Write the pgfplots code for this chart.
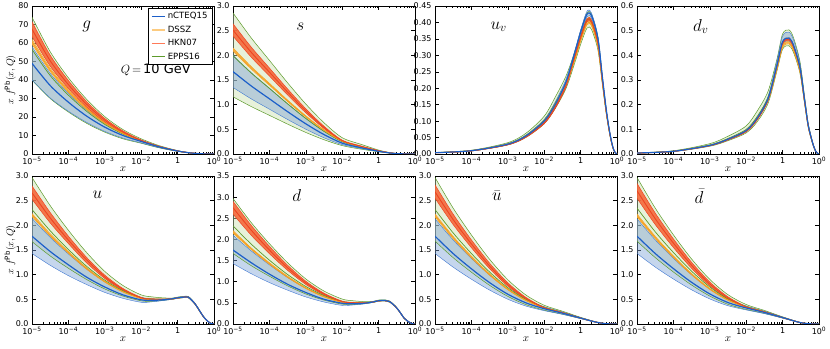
\documentclass[border=0pt]{standalone}
\usepackage{fontspec}
\setmainfont{DejaVu Sans}
\usepackage{pgfplots}
\pgfplotsset{compat=1.18}
\usepgfplotslibrary{fillbetween}
\usepackage{pgfplotstable}

\definecolor{ncol}{HTML}{1C5FC9}
\definecolor{nfillc}{HTML}{7FA3D6}
\definecolor{ecol}{HTML}{5D9B2B}
\definecolor{efillc}{HTML}{C9DFAE}
\definecolor{hcol}{HTML}{EE4422}
\definecolor{hfillc}{HTML}{F46A3C}
\definecolor{hleg}{HTML}{FF7A58}
\definecolor{dcol}{HTML}{F5A020}
\definecolor{dfillc}{HTML}{FCCB80}

% columns: nCTEQ15 (n), DSSZ (d), HKN07 (h), EPPS16 (e); c=central, l/u=band edges
\pgfplotstableread{
x nc nl nu dc dl du hc hl hu ec el eu
1e-5 49.0 40.0 58.0 60.7 59.5 62.0 67.5 63.5 71.5 56.5 40.0 74.0
3.16e-5 37.0 30.3 43.6 45.4 44.6 46.4 50.4 47.5 53.4 42.4 30.0 55.3
1e-4 28.0 23.1 32.8 34.0 33.3 34.7 37.5 35.4 39.7 31.8 22.7 41.2
3.16e-4 20.5 17.1 23.8 24.5 24.0 25.0 26.9 25.4 28.4 23.1 16.6 29.6
1e-3 14.5 12.2 16.6 16.8 16.5 17.1 18.3 17.3 19.2 16.0 11.8 20.2
3.16e-3 10.0 8.6 11.2 11.1 10.9 11.3 11.9 11.3 12.5 10.8 8.2 13.2
1e-2 6.8 6.0 7.4 7.0 6.9 7.1 7.3 7.0 7.6 7.0 5.8 8.2
3.16e-2 3.8 3.4 4.1 3.9 3.85 3.95 4.0 3.9 4.15 3.9 3.3 4.5
0.1 1.6 1.45 1.75 1.6 1.58 1.62 1.65 1.6 1.7 1.6 1.4 1.85
0.2 0.7 0.62 0.78 0.7 0.69 0.71 0.72 0.7 0.74 0.7 0.6 0.8
0.3 0.35 0.3 0.4 0.35 0.34 0.36 0.36 0.35 0.37 0.35 0.3 0.4
0.45 0.12 0.1 0.14 0.12 0.12 0.12 0.12 0.12 0.13 0.12 0.1 0.14
0.6 0.04 0.03 0.05 0.04 0.04 0.04 0.04 0.04 0.04 0.04 0.03 0.05
0.8 0.01 0.01 0.01 0.01 0.01 0.01 0.01 0.01 0.01 0.01 0.01 0.01
1 0 0 0 0 0 0 0 0 0 0 0 0
}\tg

\pgfplotstableread{
x nc nl nu dc dl du hc hl hu ec el eu
1e-5 1.67 1.35 2.0 2.12 2.09 2.15 2.51 2.39 2.64 1.99 1.16 2.86
3.16e-5 1.38 1.118 1.65 1.748 1.723 1.773 2.062 1.964 2.168 1.642 0.962 2.354
1e-4 1.119 0.909 1.335 1.413 1.393 1.434 1.659 1.581 1.743 1.329 0.784 1.899
3.16e-4 0.858 0.700 1.02 1.078 1.062 1.094 1.256 1.197 1.318 1.016 0.606 1.443
1e-3 0.612 0.503 0.7225 0.762 0.75 0.774 0.875 0.835 0.917 0.72 0.437 1.013
3.16e-3 0.394 0.329 0.46 0.483 0.475 0.491 0.539 0.516 0.563 0.459 0.289 0.634
1e-2 0.22 0.19 0.25 0.26 0.255 0.265 0.27 0.26 0.28 0.25 0.17 0.33
3.16e-2 0.13 0.115 0.145 0.15 0.148 0.152 0.16 0.155 0.165 0.145 0.10 0.20
0.1 0.055 0.048 0.062 0.06 0.059 0.061 0.065 0.063 0.067 0.06 0.045 0.08
0.2 0.022 0.019 0.025 0.024 0.024 0.024 0.025 0.025 0.026 0.024 0.018 0.03
0.3 0.009 0.008 0.01 0.01 0.01 0.01 0.01 0.01 0.01 0.01 0.007 0.012
0.45 0.003 0.002 0.003 0.003 0.003 0.003 0.003 0.003 0.003 0.003 0.002 0.004
0.6 0.001 0.001 0.001 0.001 0.001 0.001 0.001 0.001 0.001 0.001 0.001 0.001
0.8 0 0 0 0 0 0 0 0 0 0 0 0
1 0 0 0 0 0 0 0 0 0 0 0 0
}\ts

\pgfplotstableread{
x nc nl nu dc dl du hc hl hu ec el eu
1e-5 .004 .0038 .0042 .004 .0039 .0041 .0038 .0037 .0039 .0041 .0037 .0046
1e-4 .010 .0095 .0105 .010 .0098 .0102 .0095 .0092 .0098 .0103 .0092 .0115
1e-3 .030 .0285 .0315 .030 .0294 .0306 .0285 .0276 .0294 .0309 .0276 .0345
3.16e-3 .055 .0523 .0578 .055 .0539 .0561 .0523 .0506 .0539 .0567 .0506 .0633
1e-2 .100 .095 .105 .100 .098 .102 .095 .092 .098 .103 .092 .115
2e-2 .150 .1425 .158 .150 .147 .153 .1425 .138 .147 .1545 .138 .1725
4e-2 .220 .212 .228 .213 .210 .216 .210 .205 .2145 .219 .200 .238
7e-2 .310 .304 .316 .290 .287 .293 .297 .293 .301 .298 .279 .313
0.1 .370 .363 .377 .346 .342 .350 .354 .350 .359 .355 .333 .374
0.15 .425 .417 .434 .397 .393 .402 .407 .402 .412 .408 .383 .429
0.2 .420 .412 .428 .393 .389 .397 .402 .397 .407 .403 .378 .424
0.3 .350 .343 .357 .327 .324 .331 .335 .331 .340 .336 .315 .354
0.4 .230 .225 .235 .215 .213 .217 .220 .218 .223 .221 .207 .232
0.5 .140 .137 .143 .131 .130 .132 .134 .132 .136 .134 .126 .141
0.6 .080 .078 .082 .075 .074 .076 .077 .076 .078 .077 .072 .081
0.7 .040 .039 .041 .037 .037 .038 .038 .038 .039 .038 .036 .040
0.8 .015 .015 .015 .014 .014 .014 .014 .014 .015 .014 .0135 .015
0.9 .004 .004 .004 .004 .004 .004 .004 .004 .004 .004 .0036 .004
1 0 0 0 0 0 0 0 0 0 0 0 0
}\tuv

\pgfplotstableread{
x nc nl nu dc dl du hc hl hu ec el eu
1e-5 .004 .0039 .0041 .004 .0039 .0041 .0039 .0038 .004 .0042 .0036 .0048
1e-4 .011 .0107 .0113 .011 .0108 .0112 .0107 .0105 .0109 .0116 .0099 .0132
1e-3 .035 .034 .036 .035 .0343 .0357 .034 .0333 .0347 .0368 .0315 .042
3.16e-3 .060 .058 .062 .060 .0588 .0612 .058 .057 .0594 .063 .054 .072
1e-2 .095 .092 .098 .095 .0931 .0969 .092 .090 .094 .0998 .0855 .114
2e-2 .145 .141 .149 .145 .142 .148 .141 .138 .1436 .152 .1305 .174
4e-2 .225 .219 .234 .2205 .217 .224 .2205 .217 .224 .231 .206 .255
7e-2 .360 .351 .378 .346 .342 .349 .356 .353 .360 .360 .337 .385
0.1 .455 .444 .478 .437 .432 .441 .450 .446 .455 .455 .425 .487
0.15 .470 .458 .494 .451 .4465 .456 .465 .461 .470 .470 .439 .503
0.2 .440 .429 .462 .422 .418 .427 .436 .431 .440 .440 .411 .471
0.3 .350 .341 .368 .336 .3325 .3395 .3465 .343 .350 .350 .327 .3745
0.4 .220 .215 .231 .211 .209 .213 .218 .216 .220 .220 .206 .235
0.5 .120 .117 .126 .115 .114 .116 .119 .118 .120 .120 .112 .128
0.6 .070 .068 .074 .067 .0665 .068 .069 .069 .070 .070 .065 .075
0.7 .035 .034 .037 .034 .033 .034 .035 .034 .035 .035 .033 .037
0.8 .013 .0127 .0137 .0125 .0124 .0126 .0129 .0127 .013 .013 .0122 .0139
0.9 .003 .0029 .0032 .0029 .0029 .0029 .003 .0029 .003 .003 .0028 .0032
1 0 0 0 0 0 0 0 0 0 0 0 0
}\tdv

\pgfplotstableread{
x nc nl nu dc dl du hc hl hu ec el eu
1e-5 1.78 1.43 2.14 2.21 2.18 2.24 2.66 2.53 2.80 2.32 1.67 2.97
3.16e-5 1.47 1.19 1.756 1.80 1.78 1.83 2.15 2.05 2.26 1.89 1.38 2.40
1e-4 1.20 0.98 1.42 1.45 1.43 1.47 1.70 1.63 1.78 1.51 1.13 1.90
3.16e-4 0.95 0.80 1.116 1.13 1.11 1.14 1.30 1.24 1.35 1.17 0.902 1.45
1e-3 0.75 0.64 0.86 0.86 0.848 0.868 0.956 0.922 0.99 0.888 0.71 1.066
3.16e-3 0.59 0.52 0.668 0.655 0.648 0.662 0.70 0.68 0.72 0.673 0.566 0.78
1e-2 0.49 0.44 0.54 0.52 0.515 0.525 0.53 0.52 0.54 0.53 0.47 0.59
2e-2 0.48 0.45 0.51 0.50 0.495 0.505 0.505 0.50 0.51 0.505 0.46 0.55
4e-2 0.49 0.475 0.505 0.50 0.497 0.503 0.50 0.497 0.503 0.50 0.48 0.53
0.07 0.51 0.50 0.52 0.505 0.502 0.508 0.51 0.506 0.514 0.51 0.50 0.525
0.1 0.53 0.52 0.54 0.525 0.522 0.528 0.53 0.526 0.534 0.53 0.52 0.546
0.15 0.545 0.534 0.556 0.54 0.537 0.543 0.545 0.541 0.549 0.545 0.534 0.561
0.2 0.54 0.529 0.551 0.535 0.532 0.538 0.54 0.536 0.544 0.54 0.529 0.556
0.3 0.41 0.402 0.418 0.406 0.403 0.409 0.41 0.406 0.414 0.41 0.402 0.422
0.4 0.27 0.265 0.275 0.267 0.265 0.269 0.27 0.267 0.273 0.27 0.265 0.278
0.5 0.16 0.157 0.163 0.158 0.157 0.159 0.16 0.158 0.162 0.16 0.157 0.165
0.6 0.09 0.088 0.092 0.089 0.088 0.09 0.09 0.089 0.091 0.09 0.088 0.093
0.7 0.045 0.044 0.046 0.045 0.044 0.045 0.045 0.045 0.045 0.045 0.044 0.046
0.8 0.016 0.016 0.016 0.016 0.016 0.016 0.016 0.016 0.016 0.016 0.016 0.016
0.9 0.004 0.004 0.004 0.004 0.004 0.004 0.004 0.004 0.004 0.004 0.004 0.004
1 0 0 0 0 0 0 0 0 0 0 0 0
}\tu

\pgfplotstableread{
x nc nl nu dc dl du hc hl hu ec el eu
1e-5 1.75 1.43 2.10 2.18 2.15 2.21 2.75 2.60 2.90 2.32 1.67 2.97
3.16e-5 1.45 1.19 1.73 1.78 1.76 1.80 2.22 2.10 2.334 1.89 1.38 2.40
1e-4 1.18 0.98 1.40 1.43 1.41 1.45 1.75 1.664 1.838 1.51 1.13 1.90
3.16e-4 0.94 0.80 1.10 1.11 1.10 1.13 1.33 1.27 1.39 1.17 0.902 1.45
1e-3 0.745 0.64 0.85 0.848 0.84 0.86 0.974 0.936 1.012 0.888 0.71 1.066
3.16e-3 0.585 0.52 0.66 0.648 0.64 0.655 0.708 0.686 0.729 0.673 0.566 0.78
1e-2 0.49 0.44 0.53 0.515 0.51 0.52 0.53 0.52 0.54 0.53 0.47 0.59
2e-2 0.48 0.45 0.51 0.50 0.495 0.505 0.505 0.50 0.51 0.505 0.46 0.55
4e-2 0.49 0.475 0.505 0.50 0.497 0.503 0.50 0.497 0.503 0.50 0.48 0.53
0.07 0.52 0.51 0.53 0.515 0.512 0.518 0.52 0.516 0.524 0.52 0.51 0.536
0.1 0.55 0.539 0.561 0.545 0.542 0.548 0.55 0.546 0.554 0.55 0.539 0.567
0.15 0.555 0.544 0.566 0.549 0.546 0.552 0.555 0.551 0.559 0.555 0.544 0.572
0.2 0.53 0.519 0.541 0.525 0.522 0.528 0.53 0.526 0.534 0.53 0.519 0.546
0.3 0.40 0.392 0.408 0.396 0.393 0.399 0.40 0.396 0.404 0.40 0.392 0.412
0.4 0.26 0.255 0.265 0.257 0.255 0.259 0.26 0.256 0.264 0.26 0.255 0.268
0.5 0.14 0.137 0.143 0.139 0.138 0.14 0.14 0.137 0.143 0.14 0.137 0.144
0.6 0.08 0.078 0.082 0.079 0.078 0.08 0.08 0.078 0.082 0.08 0.078 0.082
0.7 0.04 0.039 0.041 0.04 0.039 0.04 0.04 0.039 0.041 0.04 0.039 0.041
0.8 0.014 0.014 0.014 0.014 0.014 0.014 0.014 0.014 0.014 0.014 0.014 0.014
0.9 0.003 0.003 0.003 0.003 0.003 0.003 0.003 0.003 0.003 0.003 0.003 0.003
1 0 0 0 0 0 0 0 0 0 0 0 0
}\td

\pgfplotstableread{
x nc nl nu dc dl du hc hl hu ec el eu
1e-5 1.78 1.43 2.13 2.2 2.17 2.23 2.68 2.55 2.82 2.32 1.68 2.97
3.16e-5 1.427 1.152 1.703 1.751 1.727 1.775 2.116 2.015 2.225 1.845 1.344 2.348
1e-4 1.119 0.908 1.329 1.359 1.34 1.377 1.623 1.547 1.704 1.429 1.05 1.805
3.16e-4 0.839 0.688 0.991 1.003 0.989 1.017 1.176 1.123 1.233 1.053 0.784 1.312
1e-3 0.604 0.502 0.706 0.704 0.694 0.714 0.80 0.766 0.836 0.736 0.56 0.898
3.16e-3 0.428 0.363 0.492 0.48 0.473 0.487 0.518 0.498 0.538 0.498 0.392 0.587
1e-2 0.31 0.27 0.35 0.33 0.325 0.335 0.33 0.32 0.34 0.34 0.28 0.38
3.16e-2 0.22 0.195 0.245 0.23 0.227 0.233 0.23 0.225 0.235 0.235 0.20 0.26
0.1 0.12 0.11 0.13 0.12 0.12 0.12 0.12 0.118 0.122 0.125 0.11 0.135
0.2 0.06 0.055 0.065 0.06 0.06 0.06 0.06 0.06 0.06 0.062 0.055 0.068
0.3 0.03 0.028 0.032 0.03 0.03 0.03 0.03 0.03 0.03 0.031 0.028 0.034
0.45 0.01 0.009 0.011 0.01 0.01 0.01 0.01 0.01 0.01 0.01 0.009 0.012
0.6 0.003 0.003 0.003 0.003 0.003 0.003 0.003 0.003 0.003 0.003 0.003 0.004
0.8 0 0 0 0 0 0 0 0 0 0 0 0
1 0 0 0 0 0 0 0 0 0 0 0 0
}\tub

\pgfplotstableread{
x nc nl nu dc dl du hc hl hu ec el eu
1e-5 1.78 1.43 2.13 2.2 2.17 2.23 2.70 2.55 2.85 2.35 1.68 2.97
3.16e-5 1.43 1.155 1.706 1.754 1.73 1.778 2.135 2.018 2.25 1.87 1.347 2.351
1e-4 1.123 0.912 1.333 1.363 1.344 1.381 1.64 1.551 1.725 1.45 1.054 1.808
3.16e-4 0.845 0.693 0.997 1.009 0.995 1.023 1.19 1.129 1.25 1.07 0.79 1.318
1e-3 0.61 0.508 0.712 0.71 0.70 0.72 0.812 0.772 0.85 0.75 0.566 0.904
3.16e-3 0.435 0.37 0.5 0.487 0.48 0.494 0.528 0.505 0.55 0.508 0.399 0.594
1e-2 0.325 0.285 0.365 0.345 0.34 0.35 0.345 0.335 0.355 0.355 0.295 0.395
3.16e-2 0.235 0.21 0.26 0.245 0.242 0.248 0.245 0.24 0.25 0.25 0.215 0.275
0.1 0.13 0.12 0.14 0.13 0.13 0.13 0.13 0.128 0.132 0.135 0.12 0.145
0.2 0.065 0.06 0.07 0.065 0.065 0.065 0.065 0.065 0.065 0.067 0.06 0.072
0.3 0.03 0.028 0.032 0.03 0.03 0.03 0.03 0.03 0.03 0.031 0.028 0.034
0.45 0.01 0.009 0.011 0.01 0.01 0.01 0.01 0.01 0.01 0.01 0.009 0.012
0.6 0.003 0.003 0.003 0.003 0.003 0.003 0.003 0.003 0.003 0.003 0.003 0.004
0.8 0 0 0 0 0 0 0 0 0 0 0 0
1 0 0 0 0 0 0 0 0 0 0 0 0
}\tdb

\tikzset{plab/.style={font=\fontsize{18}{18}\selectfont, inner sep=0pt}}

\pgfplotsset{
  edgeE/.style={ecol, line width=0.5bp, smooth, forget plot},
  edgeN/.style={ncol!85, line width=0.4bp, smooth, forget plot},
  edgeD/.style={dcol, line width=0.5bp, smooth, forget plot},
  edgeH/.style={hcol, line width=0.5bp, smooth, forget plot},
  bandE/.style={fill=efillc, fill opacity=0.45, draw=none, forget plot},
  bandN/.style={fill=nfillc, fill opacity=0.45, draw=none, forget plot},
  bandD/.style={fill=dfillc, fill opacity=0.7, draw=none, forget plot},
  bandH/.style={fill=hfillc, fill opacity=0.9, draw=none, forget plot},
  pdfpanel/.style={
    set layers, scale only axis, width=182bp, height=148bp,
    xmin=1e-5, xmax=1, ymin=0,
    xtick={1e-5,1e-4,1e-3,1e-2,1e-1,1},
    minor xtick={2e-5,3e-5,4e-5,5e-5,6e-5,7e-5,8e-5,9e-5,
                 2e-4,3e-4,4e-4,5e-4,6e-4,7e-4,8e-4,9e-4,
                 2e-3,3e-3,4e-3,5e-3,6e-3,7e-3,8e-3,9e-3,
                 2e-2,3e-2,4e-2,5e-2,6e-2,7e-2,8e-2,9e-2,
                 0.2,0.3,0.4,0.5,0.6,0.7,0.8,0.9},
    xticklabels={10\textsuperscript{−5},10\textsuperscript{−4},10\textsuperscript{−3},10\textsuperscript{−2},1,10\textsuperscript{0}},
    tick align=inside, major tick length=4bp, minor tick length=2bp,
    every tick/.style={black, line width=0.5bp},
    axis line style={line width=0.6bp},
    ticklabel style={font=\fontsize{8}{9}\selectfont},
    xlabel={$x$}, xlabel style={font=\fontsize{11}{11}\selectfont, at={(axis description cs:0.5,-0.1)}, anchor=center},
    ylabel style={font=\fontsize{10}{10}\selectfont, at={(axis description cs:-0.12,0.5)}, anchor=center},
  },
}

\newcommand{\drawpdf}[2]{%
  \addplot[edgeE, name path=#2el] table[x=x,y=el]{#1};
  \addplot[edgeE, name path=#2eu] table[x=x,y=eu]{#1};
  \addplot[edgeN, name path=#2nl] table[x=x,y=nl]{#1};
  \addplot[edgeN, name path=#2nu] table[x=x,y=nu]{#1};
  \addplot[edgeD, name path=#2dl] table[x=x,y=dl]{#1};
  \addplot[edgeD, name path=#2du] table[x=x,y=du]{#1};
  \addplot[edgeH, name path=#2hl] table[x=x,y=hl]{#1};
  \addplot[edgeH, name path=#2hu] table[x=x,y=hu]{#1};
  \addplot[bandE] fill between[of=#2el and #2eu];
  \addplot[bandN] fill between[of=#2nl and #2nu];
  \addplot[bandD] fill between[of=#2dl and #2du];
  \addplot[bandH] fill between[of=#2hl and #2hu];
  \addplot[ecol, line width=0.7bp, smooth, forget plot] table[x=x,y=ec]{#1};
  \addplot[dcol, line width=0.9bp, smooth, forget plot] table[x=x,y=dc]{#1};
  \addplot[hcol, line width=0.9bp, smooth, forget plot] table[x=x,y=hc]{#1};
  \addplot[ncol, line width=1.2bp, smooth, forget plot] table[x=x,y=nc]{#1};
}

\begin{document}
\begin{tikzpicture}
% ---- row 1 ----
\begin{semilogxaxis}[pdfpanel, at={(32bp,195bp)}, ymax=80,
  ytick={0,10,20,30,40,50,60,70,80}, yticklabels={0,10,20,30,40,50,60,70,80},
  ylabel={$x\ f^{\mathrm{Pb}}(x,Q)$},
  legend style={at={(0.993,0.985)}, anchor=north east, font=\fontsize{8.6}{9}\selectfont,
    draw=black, line width=0.5bp, fill=white, inner xsep=3bp, inner ysep=2bp, row sep=1.6bp,
    cells={anchor=west}},
  legend image code/.code={\draw[#1] (0bp,0bp) -- (13bp,0bp);}]
\drawpdf{\tg}{g}
\addlegendimage{ncol, line width=1bp}\addlegendentry{nCTEQ15}
\addlegendimage{dfillc, line width=2bp}\addlegendentry{DSSZ}
\addlegendimage{hleg, line width=1.5bp}\addlegendentry{HKN07}
\addlegendimage{ecol, line width=1bp}\addlegendentry{EPPS16}
\node[plab] at (rel axis cs:0.3,0.86) {$g$};
\node[font=\fontsize{13}{13}\selectfont, inner sep=0pt] at (rel axis cs:0.68,0.57) {$Q\,{=}\,$10 GeV};
\end{semilogxaxis}

\begin{semilogxaxis}[pdfpanel, at={(233bp,195bp)}, ymax=3,
  ytick={0,0.5,1,1.5,2,2.5,3}, yticklabels={0.0,0.5,1.0,1.5,2.0,2.5,3.0}]
\drawpdf{\ts}{s}
\node[plab] at (rel axis cs:0.37,0.86) {$s$};
\end{semilogxaxis}

\begin{semilogxaxis}[pdfpanel, at={(435bp,195bp)}, ymax=0.45,
  ytick={0,0.05,0.1,0.15,0.2,0.25,0.3,0.35,0.4,0.45},
  yticklabels={0.00,0.05,0.10,0.15,0.20,0.25,0.30,0.35,0.40,0.45}]
\drawpdf{\tuv}{uv}
\node[plab] at (rel axis cs:0.35,0.86) {$u_v$};
\end{semilogxaxis}

\begin{semilogxaxis}[pdfpanel, at={(637bp,195bp)}, ymax=0.6,
  ytick={0,0.1,0.2,0.3,0.4,0.5,0.6}, yticklabels={0.0,0.1,0.2,0.3,0.4,0.5,0.6}]
\drawpdf{\tdv}{dv}
\node[plab] at (rel axis cs:0.35,0.86) {$d_v$};
\end{semilogxaxis}

% ---- row 2 ----
\begin{semilogxaxis}[pdfpanel, at={(32bp,25bp)}, ymax=3,
  ytick={0,0.5,1,1.5,2,2.5,3}, yticklabels={0.0,0.5,1.0,1.5,2.0,2.5,3.0},
  ylabel={$x\ f^{\mathrm{Pb}}(x,Q)$}]
\drawpdf{\tu}{u}
\node[plab] at (rel axis cs:0.36,0.87) {$u$};
\end{semilogxaxis}

\begin{semilogxaxis}[pdfpanel, at={(233bp,25bp)}, ymax=3.5,
  ytick={0,0.5,1,1.5,2,2.5,3,3.5}, yticklabels={0.0,0.5,1.0,1.5,2.0,2.5,3.0,3.5}]
\drawpdf{\td}{d}
\node[plab] at (rel axis cs:0.35,0.87) {$d$};
\end{semilogxaxis}

\begin{semilogxaxis}[pdfpanel, at={(435bp,25bp)}, ymax=3,
  ytick={0,0.5,1,1.5,2,2.5,3}, yticklabels={0.0,0.5,1.0,1.5,2.0,2.5,3.0}]
\drawpdf{\tub}{ub}
\node[plab] at (rel axis cs:0.34,0.87) {$\bar{u}$};
\end{semilogxaxis}

\begin{semilogxaxis}[pdfpanel, at={(637bp,25bp)}, ymax=3,
  ytick={0,0.5,1,1.5,2,2.5,3}, yticklabels={0.0,0.5,1.0,1.5,2.0,2.5,3.0}]
\drawpdf{\tdb}{db}
\node[plab] at (rel axis cs:0.34,0.865) {$\bar{d}$};
\end{semilogxaxis}

\pgfresetboundingbox
\useasboundingbox (0,0) rectangle (830bp,349bp);
\end{tikzpicture}
\end{document}
